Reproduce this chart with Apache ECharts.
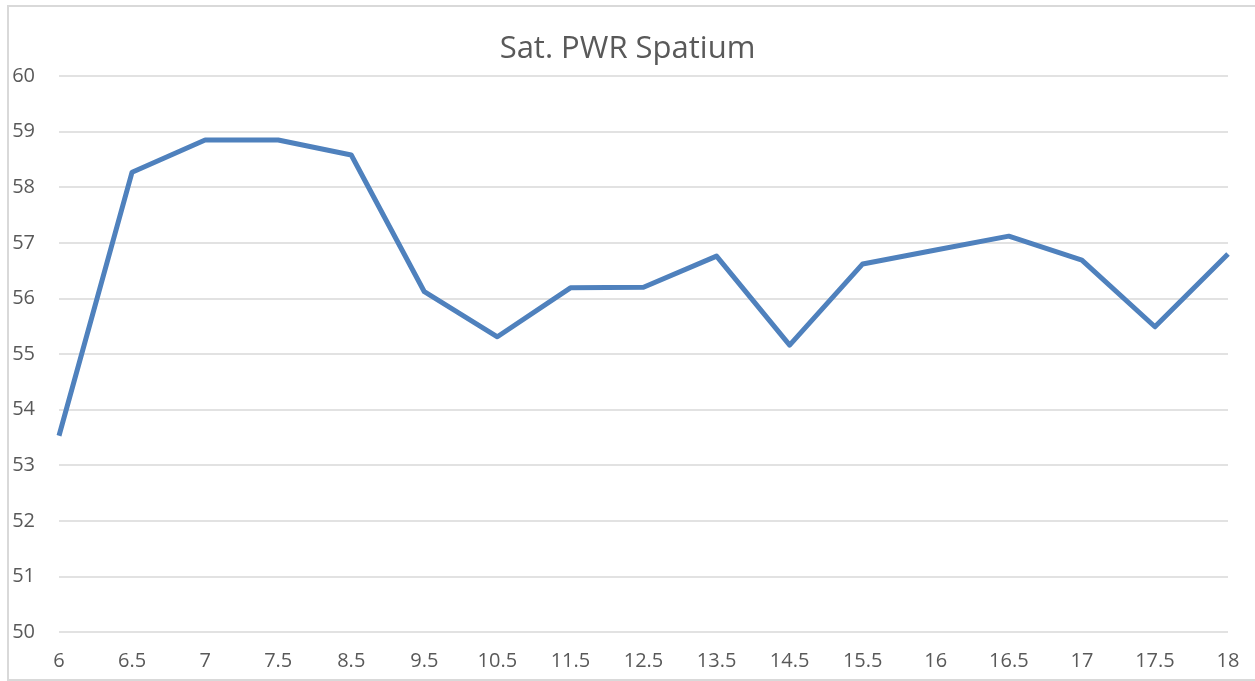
<!DOCTYPE html>
<html>
<head>
<meta charset="utf-8">
<title>Sat. PWR Spatium</title>
<script src="https://cdn.jsdelivr.net/npm/echarts@6/dist/echarts.min.js"></script>
<style>
  html, body { margin: 0; padding: 0; background: #fff; }
  #chart { width: 1255px; height: 681px; }
</style>
</head>
<body>
<div id="chart"></div>
<script>
// x categories (Excel category axis, not evenly spaced values)
const categories = ['6', '6.5', '7', '7.5', '8.5', '9.5', '10.5', '11.5', '12.5',
  '13.5', '14.5', '15.5', '16', '16.5', '17', '17.5', '18']
// saturation power values
const pwrValues = [53.53, 58.27, 58.85, 58.85, 58.58, 56.12, 55.31, 56.19, 56.2,
  56.76, 55.16, 56.62, 56.87, 57.12, 56.69, 55.49, 56.8]

const textColor = '#595959'
const gridColor = '#d9d9d9'
const fontFamily = '"Open Sans", "Liberation Sans", sans-serif'

const myChart = echarts.init(document.getElementById('chart'))

myChart.setOption({
  animation: false,
  title: {
    text: 'Sat. PWR Spatium',
    left: 'center',
    top: 29,
    textStyle: { color: textColor, fontSize: 31, fontWeight: 'normal', fontFamily: fontFamily }
  },
  // chart frame, cropped on the right
  graphic: [{
    type: 'rect',
    shape: { x: 8, y: 6, width: 1300, height: 674 },
    style: { fill: 'none', stroke: gridColor, lineWidth: 2 },
    silent: true
  }],
  grid: { left: 59, right: 27, top: 76, bottom: 49 },
  xAxis: {
    type: 'category',
    data: categories,
    boundaryGap: false,
    axisLine: { show: false },
    axisTick: { show: false },
    axisLabel: { color: textColor, fontSize: 20, fontFamily: fontFamily, margin: 19, interval: 0 }
  },
  yAxis: {
    type: 'value',
    min: 50,
    max: 60,
    interval: 1,
    axisLine: { show: false },
    axisTick: { show: false },
    axisLabel: { color: textColor, fontSize: 20, fontFamily: fontFamily, margin: 24 },
    splitLine: { lineStyle: { color: gridColor, width: 1.5 } }
  },
  series: [{
    type: 'line',
    data: pwrValues,
    symbol: 'none',
    lineStyle: { color: '#4f81bd', width: 5, cap: 'butt', join: 'round' }
  }]
})

window.addEventListener('resize', () => myChart.resize())
</script>
</body>
</html>
